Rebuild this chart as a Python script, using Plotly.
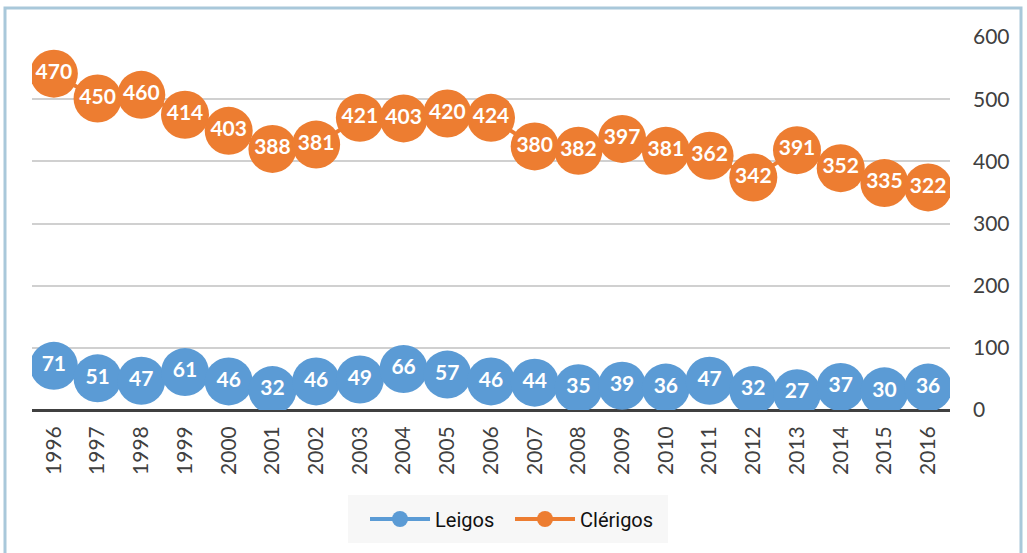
import plotly.graph_objects as go

years = [1996, 1997, 1998, 1999, 2000, 2001, 2002, 2003, 2004, 2005, 2006,
         2007, 2008, 2009, 2010, 2011, 2012, 2013, 2014, 2015, 2016]
leigos = [71, 51, 47, 61, 46, 32, 46, 49, 66, 57, 46, 44, 35, 39, 36, 47, 32, 27, 37, 30, 36]
clerigos = [470, 450, 460, 414, 403, 388, 381, 421, 403, 420, 424, 380, 382, 397, 381, 362, 342, 391, 352, 335, 322]
y_ticks = [0, 100, 200, 300, 400, 500, 600]

BLUE = "#5b9bd5"
ORANGE = "#ed7d31"

fig = go.Figure()
for name, vals, col in [("Leigos", leigos, BLUE), ("Clérigos", clerigos, ORANGE)]:
    fig.add_trace(go.Scatter(
        x=years, y=vals, name=name, stackgroup="one", fill="none",
        mode="lines+markers+text",
        line=dict(color=col, width=4),
        marker=dict(color=col, size=48, line=dict(width=0)),
        text=[str(v) for v in vals], textposition="middle center",
        textfont=dict(family="Lato", size=21, color="white", weight="bold"),
    ))

L, R, T, B = 32, 77, 37, 143
W, H = 1027, 553
pw, ph = W - L - R, H - T - B

def px_x(x):
    return (x - L) / pw

def px_y(y):
    return (H - B - y) / ph

fig.update_layout(
    width=W, height=H,
    margin=dict(l=L, r=R, t=T, b=B),
    paper_bgcolor="white", plot_bgcolor="white",
    showlegend=True,
    legend=dict(orientation="h", x=px_x(510), xanchor="center",
                y=px_y(519), yanchor="middle",
                bgcolor="rgba(0,0,0,0)",
                font=dict(family="Liberation Sans Narrow, Roboto", size=20, color="#111"),
                itemwidth=60, entrywidth=70),
    xaxis=dict(range=[1995.5, 2016.5], tickmode="array", tickvals=years,
               ticktext=[str(y) for y in years], tickangle=-90,
               tickfont=dict(family="Lato", size=21, color="#404040"),
               showgrid=False, zeroline=False, showline=False, ticks="",
               ticklabelstandoff=11),
    yaxis=dict(range=[0, 600], side="right", tickvals=y_ticks,
               tickfont=dict(family="Lato", size=21, color="#404040"),
               gridcolor="#d0d0d0", gridwidth=1.5,
               zeroline=True, zerolinecolor="#404040", zerolinewidth=3,
               showline=False, ticks="", ticklabelstandoff=22),
)

# legend background box
fig.add_shape(type="rect", xref="paper", yref="paper",
              x0=px_x(348), x1=px_x(668), y0=px_y(543), y1=px_y(495),
              line=dict(width=0), fillcolor="#f7f7f7", layer="below")
# outer chart border
fig.add_shape(type="rect", xref="paper", yref="paper",
              x0=px_x(5), x1=px_x(1021), y0=px_y(H + 10), y1=px_y(8),
              line=dict(color="#a9c8da", width=3), fillcolor="rgba(0,0,0,0)", layer="below")

fig.write_html("out.html", config={"displayModeBar": False},
               post_script="document.body.style.margin='0';document.body.style.overflow='hidden';")
